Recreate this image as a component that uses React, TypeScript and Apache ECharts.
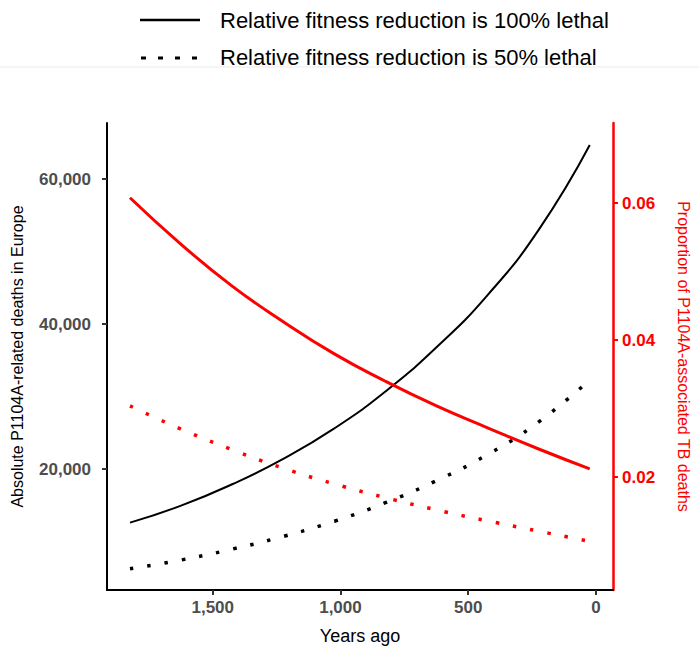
import React, { useEffect, useRef } from "react";
import * as echarts from "echarts";

const years = [1824, 1624, 1424, 1224, 1024, 824, 624, 424, 224, 24];
const deaths100 = [12600, 14950, 17900, 21400, 25600, 30700, 36800, 44000, 53000, 64700];
const deaths50 = [6250, 7450, 8950, 10700, 12800, 15350, 18400, 22000, 26500, 32300];
const prop100 = [0.0608, 0.054, 0.0479, 0.0427, 0.038, 0.034, 0.0304, 0.0272, 0.0241, 0.0212];
const prop50 = [0.0304, 0.027, 0.024, 0.0213, 0.019, 0.017, 0.0152, 0.0136, 0.0121, 0.0106];

const xTicks = [0, 500, 1000, 1500];
const leftTicks = [20000, 40000, 60000];
const rightTicks = [0.02, 0.04, 0.06];

const legend100 = "Relative fitness reduction is 100% lethal";
const legend50 = "Relative fitness reduction is 50% lethal";

const pairs = (vals: number[]) => years.map((y, i) => [y, vals[i]]);
const fmt = (v: number) => Math.round(v).toLocaleString("en-US");

export default function App() {
  const ref = useRef<HTMLDivElement>(null);
  useEffect(() => {
    if (!ref.current) return;
    const chart = echarts.init(ref.current, null, { renderer: "svg" });
    const font = "Liberation Sans, Arial, sans-serif";
    const gray = "#4d4d4d";
    const dotted = [3.5, 14];
    const lineBase = { type: "line", smooth: true, symbol: "none" };
    chart.setOption({
      animation: false,
      textStyle: { fontFamily: font },
      grid: { left: 107, right: 67.5, top: 123, bottom: 58.3, containLabel: false },
      xAxis: {
        type: "value",
        inverse: true,
        min: -67,
        max: 1914,
        name: "Years ago",
        nameLocation: "middle",
        nameGap: 37,
        nameTextStyle: { color: "#000", fontSize: 18, fontFamily: font },
        axisLine: { show: true, onZero: false, lineStyle: { color: "#000", width: 2 } },
        axisTick: { show: true, customValues: xTicks, length: 5, lineStyle: { color: "#333", width: 2 } },
        axisLabel: { customValues: xTicks, formatter: fmt, color: gray, fontWeight: "bold", fontSize: 17, margin: 9, fontFamily: font },
        splitLine: { show: false },
      },
      yAxis: [
        {
          type: "value",
          position: "left",
          min: 3310,
          max: 67740,
          name: "Absolute P1104A-related deaths in Europe",
          nameLocation: "middle",
          nameGap: 82,
          nameTextStyle: { color: "#000", fontSize: 16, fontFamily: font },
          axisLine: { show: true, onZero: false, lineStyle: { color: "#000", width: 2 } },
          axisTick: { show: true, customValues: leftTicks, length: 5, lineStyle: { color: "#333", width: 2 } },
          axisLabel: { customValues: leftTicks, formatter: fmt, color: gray, fontWeight: "bold", fontSize: 17, margin: 16, fontFamily: font },
          splitLine: { show: false },
        },
        {
          type: "value",
          position: "right",
          min: 0.003505,
          max: 0.07172,
          name: "Proportion of P1104A-associated TB deaths",
          nameLocation: "middle",
          nameRotate: -90,
          nameGap: 62,
          nameTextStyle: { color: "#ff0000", fontSize: 16, fontFamily: font },
          axisLine: { show: true, onZero: false, lineStyle: { color: "#ff0000", width: 2.5 } },
          axisTick: { show: true, customValues: rightTicks, length: 5, lineStyle: { color: "#ff0000", width: 2 } },
          axisLabel: { customValues: rightTicks, formatter: (v: number) => v.toFixed(2), color: "#ff0000", fontWeight: "bold", fontSize: 17, margin: 9, fontFamily: font },
          splitLine: { show: false },
        },
      ],
      series: [
        { ...lineBase, name: legend100, data: pairs(deaths100), lineStyle: { color: "#000", width: 2 } },
        { ...lineBase, name: legend50, data: pairs(deaths50), lineStyle: { color: "#000", width: 3.5, type: dotted } },
        { ...lineBase, name: "prop100", yAxisIndex: 1, data: pairs(prop100), lineStyle: { color: "#ff0000", width: 3 } },
        { ...lineBase, name: "prop50", yAxisIndex: 1, data: pairs(prop50), lineStyle: { color: "#ff0000", width: 3.5, type: dotted } },
      ],
      graphic: [
        { type: "line", shape: { x1: 0, y1: 67, x2: 699, y2: 67 }, style: { stroke: "#ebebeb", lineWidth: 1 } },
        { type: "line", shape: { x1: 140, y1: 20, x2: 200, y2: 20 }, style: { stroke: "#000", lineWidth: 2.5 } },
        { type: "line", shape: { x1: 141, y1: 58, x2: 200, y2: 58 }, style: { stroke: "#000", lineWidth: 3, lineDash: [5, 12] } },
        { type: "text", x: 220, y: 20, style: { text: legend100, fill: "#000", font: `22px ${font}`, verticalAlign: "middle" } },
        { type: "text", x: 220, y: 57, style: { text: legend50, fill: "#000", font: `22px ${font}`, verticalAlign: "middle" } },
      ],
    });
    return () => chart.dispose();
  }, []);
  return <div ref={ref} style={{ width: 699, height: 650, position: "absolute", left: 0, top: 0 }} />;
}
